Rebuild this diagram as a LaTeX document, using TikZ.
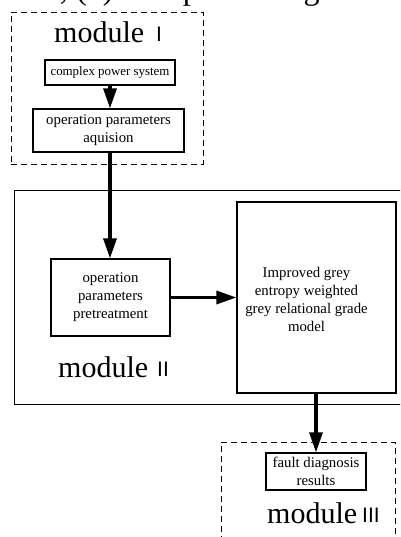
\documentclass[tikz,border=0pt]{standalone}
\usepackage{fontspec}
\setmainfont{Liberation Serif}
\newfontfamily\numfont{Liberation Sans}
\usetikzlibrary{arrows.meta}
\begin{document}
\begin{tikzpicture}[x=1pt, y=-1pt,
  box/.style={draw, line width=1.2pt, inner sep=0pt, align=center,
    font=\fontsize{14.8}{18}\selectfont},
  txt/.style={inner sep=0pt, align=center, font=\fontsize{14.8}{18}\selectfont},
  frame/.style={draw, line width=1pt, inner sep=0pt},
  dashframe/.style={draw, line width=0.9pt, dash pattern=on 6pt off 4pt, inner sep=0pt},
  flow/.style={line width=3.2pt, -{Triangle[length=20pt,width=13pt]}},
  modlabel/.style={anchor=base west, inner sep=0pt, font=\fontsize{30}{32}\selectfont},
  numlabel/.style={anchor=base west, inner sep=0pt, font=\numfont\fontsize{21}{23}\selectfont},
  caption/.style={inner sep=0pt, font=\fontsize{32}{34}\selectfont}]
\useasboundingbox (0,0) rectangle (400,537);
\clip (0,0) rectangle (400,537);

% caption line of the figure above
\node[caption, anchor=base east] (cap1) at (68,0) {ure,};
\node[caption, anchor=base west] (cap2) at (76,0) {(1) data processing module};

% module frames
\node[dashframe, minimum width=192pt, minimum height=152pt] (modI) at (107,88) {};
\node[frame, minimum width=406pt, minimum height=213pt] (modII) at (217,297.5) {};
\node[dashframe, minimum width=174pt, minimum height=138pt] (modIII) at (308,511) {};

% module labels
\node[modlabel] (lblI) at (54,43) {module};
\node[numlabel] (numI) at (156,42) {I};
\node[modlabel] (lblII) at (58,377) {module};
\node[numlabel] (numII) at (157,376) {II};
\node[modlabel] (lblIII) at (267,523) {module};
\node[numlabel] (numIII) at (362,522) {III};

% process blocks
\node[box, minimum width=130pt, minimum height=25pt,
  font=\fontsize{12.9}{15}\selectfont] (cps) at (110,72.5) {complex power system};
\node[box, minimum width=151pt, minimum height=43pt] (acq) at (108.5,130.5)
  {operation parameters\\aquision};
\node[box, minimum width=119pt, minimum height=77pt] (pre) at (110.5,297.5)
  {operation\\parameters\\pretreatment};
\node[box, minimum width=159pt, minimum height=191pt] (igm) at (316.5,297.5) {};
\node[txt] (igmtext) at (306.5,299)
  {Improved grey\\entropy weighted\\grey relational grade\\model};
\node[box, minimum width=100pt, minimum height=37pt] (fault) at (316,471.5)
  {fault diagnosis\\results};

% data flow
\draw[flow] (cps.south -| 110,0) -- (acq.north -| 110,0);
\draw[flow] (acq.south -| 110,0) -- (pre.north -| 110,0);
\draw[flow] (pre.east) -- (igm.west |- pre.east);
\draw[flow] (igm.south -| fault.north) -- (fault.north);
\end{tikzpicture}
\end{document}
